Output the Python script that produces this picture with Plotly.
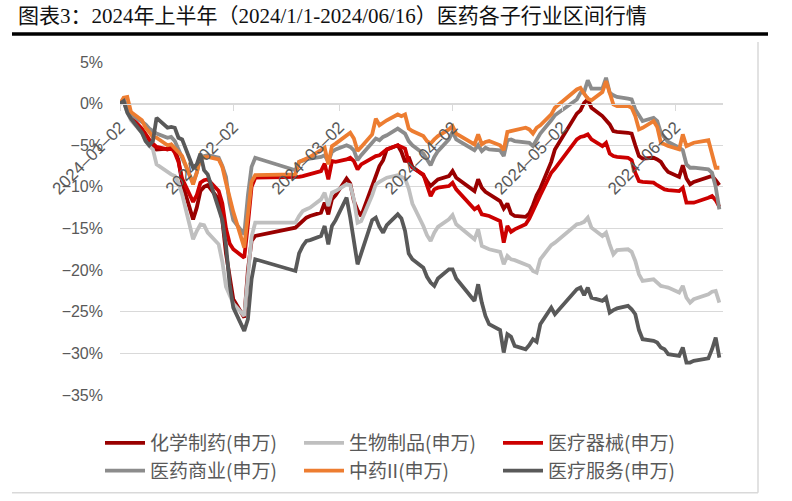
import plotly.graph_objects as go

dates = [
    "2024-01-02","2024-01-03","2024-01-04","2024-01-05","2024-01-08","2024-01-09","2024-01-10","2024-01-11","2024-01-12",
    "2024-01-15","2024-01-16","2024-01-17","2024-01-18","2024-01-19","2024-01-22","2024-01-23","2024-01-24","2024-01-25",
    "2024-01-26","2024-01-29","2024-01-30","2024-01-31",
    "2024-02-01","2024-02-02","2024-02-05","2024-02-06","2024-02-07","2024-02-08","2024-02-19","2024-02-20","2024-02-21",
    "2024-02-22","2024-02-23","2024-02-26","2024-02-27","2024-02-28","2024-02-29",
    "2024-03-01","2024-03-04","2024-03-05","2024-03-06","2024-03-07","2024-03-08","2024-03-11","2024-03-12","2024-03-13",
    "2024-03-14","2024-03-15","2024-03-18","2024-03-19","2024-03-20","2024-03-21","2024-03-22","2024-03-25","2024-03-26",
    "2024-03-27","2024-03-28","2024-03-29",
    "2024-04-01","2024-04-02","2024-04-03","2024-04-08","2024-04-09","2024-04-10","2024-04-11","2024-04-12","2024-04-15",
    "2024-04-16","2024-04-17","2024-04-18","2024-04-19","2024-04-22","2024-04-23","2024-04-24","2024-04-25","2024-04-26",
    "2024-04-29","2024-04-30",
    "2024-05-06","2024-05-07","2024-05-08","2024-05-09","2024-05-10","2024-05-13","2024-05-14","2024-05-15","2024-05-16",
    "2024-05-17","2024-05-20","2024-05-21","2024-05-22","2024-05-23","2024-05-24","2024-05-27","2024-05-28","2024-05-29",
    "2024-05-30","2024-05-31",
    "2024-06-03","2024-06-04","2024-06-05","2024-06-06","2024-06-07","2024-06-11","2024-06-12","2024-06-13","2024-06-14",
]

# 化学制药(申万), %
chem = [
    0.0, 0.3, -0.8, -1.8, -3.3, -4.0, -4.6, -5.0, -5.5, -5.4, -5.0, -5.6, -6.8, -9.5, -13.9, -12.5, -10.5, -10.0, -9.8, -11.5, -14.0, -18.0,
    -21.0, -23.5, -25.7, -20.0, -16.5, -15.9, -14.9, -14.5, -14.0, -13.7, -13.5, -13.1, -11.9, -13.3, -11.5,
    -11.0, -9.0, -9.6, -11.7, -12.8, -13.5, -9.8, -8.5, -7.5, -6.8, -5.5, -5.0, -5.8, -7.0, -6.4, -7.6, -8.6, -9.3, -9.9, -9.5, -9.1,
    -8.7, -8.1, -8.9, -10.5, -9.1, -10.1, -10.6, -10.9, -11.7, -12.6, -12.0, -13.2, -13.5, -13.6, -13.2, -12.2, -11.0, -10.2, -7.0, -5.5,
    -1.2, -0.8, 0.1, 0.5, -0.5, -1.5, -2.0, -2.5, -3.3, -3.4, -3.5, -3.6, -5.0, -6.3, -6.6, -6.5, -6.7, -7.0, -7.7, -8.2,
    -8.8, -7.4, -9.0, -9.7, -9.4, -8.9, -8.7, -9.2, -9.8,
]

# 生物制品(申万), %
bio = [
    0.0, 0.2, -1.0, -2.0, -3.5, -4.5, -5.1, -5.5, -7.3, -8.3, -8.5, -8.7, -9.5, -10.9, -16.3, -15.3, -14.5, -14.6, -15.5, -16.9, -19.0, -22.0,
    -23.0, -24.0, -25.5, -20.5, -16.0, -14.3, -14.3, -13.5, -12.9, -12.7, -12.5, -11.5, -10.7, -12.3, -10.7,
    -10.5, -9.7, -9.8, -11.5, -14.3, -14.1, -11.0, -9.7, -9.4, -9.2, -8.9, -8.6, -8.8, -9.0, -10.2, -12.0, -14.7, -15.8, -16.5, -15.5, -14.8,
    -13.9, -13.4, -14.5, -16.3, -15.1, -17.1, -17.3, -17.5, -17.8, -19.3, -18.3, -18.7, -18.8, -19.3, -19.5, -20.1, -20.3, -18.7, -17.0, -16.7,
    -14.5, -14.4, -14.2, -13.7, -14.9, -15.9, -15.5, -16.9, -18.1, -17.6, -17.5, -17.8, -18.9, -20.5, -21.3, -21.1, -21.5, -21.9, -22.0, -22.1,
    -22.7, -21.9, -23.3, -23.9, -23.5, -22.9, -22.6, -22.5, -23.9,
]

# 医疗器械(申万), %
device = [
    0.0, 0.4, -0.5, -1.6, -3.0, -3.7, -4.3, -4.8, -5.2, -5.5, -5.3, -5.9, -7.0, -9.0, -11.8, -11.0, -9.5, -9.2, -9.1, -10.5, -12.0, -15.0,
    -16.8, -17.5, -18.5, -14.5, -10.0, -8.9, -8.9, -8.8, -8.7, -8.6, -8.4, -8.1, -7.2, -9.1, -6.9,
    -7.0, -6.7, -6.5, -6.9, -7.9, -7.3, -6.6, -6.3, -6.2, -5.8, -5.5, -5.0, -5.2, -5.4, -7.0, -7.7, -8.5, -9.9, -11.1, -10.3, -10.1,
    -9.9, -9.5, -10.3, -12.7, -12.4, -13.3, -13.4, -13.5, -14.1, -16.7, -14.7, -15.4, -15.1, -14.5, -13.8, -12.8, -12.0, -11.0, -8.3, -7.8,
    -4.3, -4.0, -3.9, -3.7, -4.3, -5.1, -4.7, -6.0, -6.3, -6.4, -6.5, -6.8, -8.3, -9.3, -9.4, -9.5, -9.8, -10.1, -10.3, -10.4,
    -10.5, -10.1, -11.9, -11.9, -11.9, -11.3, -11.1, -11.6, -12.4,
]

# 医药商业(申万), %
commerce = [
    0.0, 0.5, -0.3, -1.3, -2.2, -2.5, -3.0, -3.3, -3.6, -4.1, -4.0, -4.5, -5.5, -6.6, -9.5, -8.3, -6.4, -6.3, -6.2, -6.5, -7.5, -8.8,
    -12.0, -14.0, -15.7, -11.0, -7.6, -6.5, -8.0, -7.0, -6.8, -6.7, -6.6, -6.4, -6.2, -7.0, -5.8,
    -5.5, -5.0, -5.2, -5.6, -6.8, -6.2, -4.6, -4.2, -4.4, -4.0, -3.8, -3.0, -3.3, -3.6, -4.5, -5.0, -6.0, -6.7, -7.4, -6.4, -5.7,
    -4.3, -3.4, -4.3, -5.6, -5.0, -5.7, -5.3, -5.5, -5.6, -6.3, -4.4, -4.3, -4.5, -4.6, -4.7, -5.1, -4.4, -3.6, -2.0, -1.4,
    0.5, 1.3, 1.4, 2.8, 1.8, 1.8, 3.1, 1.3, 1.0, 0.8, 0.6, 0.5, -0.7, -1.5, -2.1, -1.7, -2.1, -3.5, -4.0, -4.6,
    -5.3, -5.6, -7.3, -7.7, -7.7, -7.9, -8.3, -10.0, -12.7,
]

# 中药II(申万), %
tcm = [
    0.0, 0.7, 0.8, -1.0, -2.0, -2.9, -3.4, -4.0, -4.1, -5.0, -4.9, -5.4, -5.8, -6.3, -9.7, -8.3, -6.5, -6.4, -6.4, -6.7, -7.6, -9.5,
    -11.5, -13.0, -17.3, -13.0, -9.4, -8.6, -8.5, -7.0, -6.8, -6.6, -6.4, -5.6, -5.3, -7.3, -5.1,
    -4.8, -3.9, -3.5, -4.2, -5.7, -5.2, -3.7, -1.8, -2.6, -2.3, -2.0, -1.3, -1.5, -1.3, -3.0, -3.3, -3.9, -4.5, -4.8, -4.3, -3.9,
    -3.1, -2.7, -3.6, -4.9, -3.7, -4.9, -4.6, -4.5, -5.0, -5.6, -3.4, -3.3, -3.1, -2.9, -3.1, -3.6, -2.9, -2.6, -1.3, -0.5,
    1.7, 1.9, 1.2, 0.6, 0.4, 1.4, 2.7, 1.1, -0.1, -0.3, -0.3, -0.5, -1.5, -3.1, -2.9, -2.1, -2.8, -4.7, -4.9, -5.1,
    -5.5, -3.7, -5.1, -4.9, -4.7, -4.4, -6.0, -7.7, -7.7,
]

# 医疗服务(申万), %
service = [
    0.0, 0.3, -1.1, -1.8, -3.5, -4.5, -5.0, -4.5, -1.7, -2.9, -2.8, -2.9, -4.1, -4.3, -7.7, -7.3, -6.0, -8.0, -8.5, -12.5, -14.0, -17.0,
    -21.7, -24.5, -27.3, -25.9, -21.1, -18.7, -20.1, -18.0, -17.1, -16.5, -16.4, -15.9, -14.7, -16.9, -14.7,
    -14.0, -11.3, -13.7, -16.5, -19.3, -18.0, -14.0, -13.7, -14.8, -15.5, -14.6, -13.3, -13.8, -15.3, -18.0, -18.7, -19.7, -20.8, -21.5, -21.9, -21.0,
    -19.9, -19.9, -21.0, -23.7, -21.7, -23.9, -25.5, -26.5, -27.2, -29.9, -27.7, -28.0, -29.1, -29.5, -29.0, -28.3, -28.6, -26.5, -24.5, -25.3,
    -22.3, -22.1, -23.0, -22.1, -23.3, -23.7, -23.3, -25.1, -24.8, -24.6, -24.3, -24.7, -25.3, -27.2, -28.3, -28.5, -28.7, -29.3, -29.5, -30.1,
    -30.3, -29.3, -31.1, -31.1, -30.9, -30.6, -29.5, -28.1, -30.5,
]

series_names = ["化学制药(申万)", "生物制品(申万)", "医疗器械(申万)",
                "医药商业(申万)", "中药II(申万)", "医疗服务(申万)"]
series_values = [chem, bio, device, commerce, tcm, service]
series_colors = ["#990000", "#BFBFBF", "#CC0000", "#8C8C8C", "#ED7D31", "#595959"]

y_ticks = [5, 0, -5, -10, -15, -20, -25, -30, -35]
y_tick_labels = ["5%", "0%", "−5%", "−10%", "−15%", "−20%", "−25%", "−30%", "−35%"]
x_ticks = ["2024-01-02", "2024-02-02", "2024-03-02", "2024-04-02", "2024-05-02", "2024-06-02"]
x_tick_labels = ["2024–01–02", "2024–02–02", "2024–03–02", "2024–04–02", "2024–05–02", "2024–06–02"]
title_text = "图表3：2024年上半年（2024/1/1-2024/06/16）医药各子行业区间行情"

W, H = 792, 501
ML, MR, MT, MB = 120, 69, 62, 105
PW, PH = W - ML - MR, H - MT - MB


def px_x(p):
    return (p - ML) / PW


def px_y(p):
    return (H - MB - p) / PH


fig = go.Figure()
for name, vals, col in zip(series_names, series_values, series_colors):
    fig.add_trace(go.Scatter(
        x=dates, y=vals, name=name, mode="lines",
        line=dict(color=col, width=3.8),
    ))

y_tick_font = dict(family="Liberation Sans, Arial, sans-serif", size=16, color="#595959")
x_tick_font = dict(family="Liberation Sans, Arial, sans-serif", size=17, color="#595959")
ymin, ymax = -35, 5

fig.update_layout(
    width=W, height=H,
    margin=dict(l=ML, r=MR, t=MT, b=MB, pad=0),
    paper_bgcolor="white", plot_bgcolor="white",
    title=dict(
        text=title_text,
        x=18 / W, xanchor="left", xref="container",
        y=1 - 16 / H, yanchor="middle", yref="container",
        font=dict(family="Liberation Serif, Noto Sans CJK SC, serif", size=21, color="#111111"),
    ),
    xaxis=dict(
        type="date",
        range=["2024-01-02", "2024-06-15"],
        tickvals=x_ticks,
        ticktext=x_tick_labels,
        tickangle=-45,
        tickfont=x_tick_font,
        showgrid=False,
        showline=True, linecolor="#D9D9D9", linewidth=1,
        ticks="outside", ticklen=6, tickcolor="#D9D9D9", tickwidth=1,
        anchor="free",
        position=(0 - ymin) / (ymax - ymin),
        zeroline=False,
    ),
    yaxis=dict(
        range=[ymin, ymax],
        tickvals=y_ticks,
        ticktext=y_tick_labels,
        tickfont=y_tick_font,
        showgrid=True, gridcolor="#D9D9D9", gridwidth=1.2,
        zeroline=False,
        showline=False,
        ticks="",
        ticklabelstandoff=16,
    ),
    legend=dict(
        orientation="h",
        x=px_x(100), xanchor="left",
        y=px_y(424), yanchor="top",
        entrywidth=144, entrywidthmode="pixels",
        itemwidth=40,
        font=dict(family="Noto Sans CJK SC, sans-serif", size=19, color="#595959"),
        bgcolor="rgba(0,0,0,0)",
        tracegroupgap=0,
    ),
    showlegend=True,
)

# heading rule under the title
fig.add_shape(type="line", xref="paper", yref="paper",
              x0=px_x(12), x1=px_x(768), y0=px_y(34), y1=px_y(34),
              line=dict(color="#000000", width=3.5))
# light chart border (right and bottom)
fig.add_shape(type="line", xref="paper", yref="paper",
              x0=px_x(758), x1=px_x(758), y0=px_y(42), y1=px_y(494),
              line=dict(color="#D9D9D9", width=1.5))
fig.add_shape(type="line", xref="paper", yref="paper",
              x0=px_x(12), x1=px_x(758), y0=px_y(494), y1=px_y(494),
              line=dict(color="#D9D9D9", width=1.5))

fig.write_html("out.html")
